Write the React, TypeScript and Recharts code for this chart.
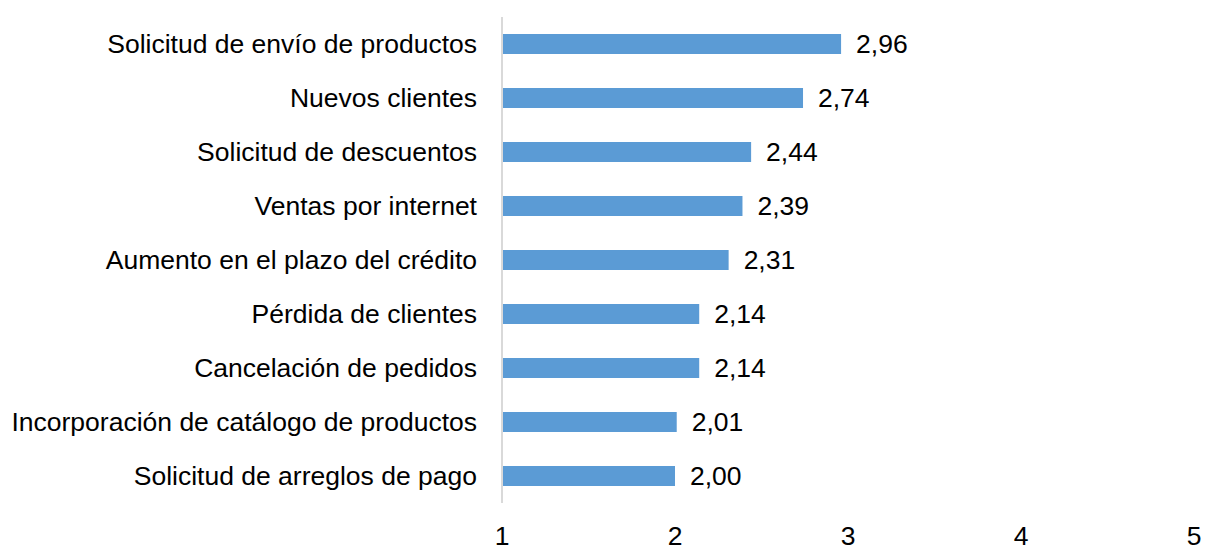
import { BarChart, Bar, XAxis, YAxis, LabelList } from "recharts";

const categories = [
  "Solicitud de envío de productos",
  "Nuevos clientes",
  "Solicitud de descuentos",
  "Ventas por internet",
  "Aumento en el plazo del crédito",
  "Pérdida de clientes",
  "Cancelación de pedidos",
  "Incorporación de catálogo de productos",
  "Solicitud de arreglos de pago",
];

const values = [2.96, 2.74, 2.44, 2.39, 2.31, 2.14, 2.14, 2.01, 2.0];

const xTicks = [1, 2, 3, 4, 5];

const data = categories.map((name, i) => ({ name, value: values[i] }));

const FONT = "'Liberation Sans', Arial, sans-serif";

export default function App() {
  return (
    <div style={{ width: 1207, height: 545, background: "#fff" }}>
      <style>{`body{margin:0}`}</style>
      <BarChart
        width={1207}
        height={545}
        data={data}
        layout="vertical"
        margin={{ top: 17, right: 13, bottom: 0, left: 0 }}
        barCategoryGap={17}
      >
        <XAxis
          type="number"
          domain={[1, 5]}
          ticks={xTicks}
          axisLine={false}
          tickLine={false}
          height={42}
          tickMargin={17}
          tick={{ fill: "#000", fontSize: 26.5, fontFamily: FONT }}
        />
        <YAxis
          type="category"
          dataKey="name"
          width={502}
          axisLine={{ stroke: "#d9d9d9", strokeWidth: 2 }}
          tickLine={false}
          tickMargin={19}
          interval={0}
          tick={{ fill: "#000", fontSize: 26.5, fontFamily: FONT }}
        />
        <Bar dataKey="value" fill="#5b9bd5" barSize={20} isAnimationActive={false}>
          <LabelList
            dataKey="value"
            position="right"
            offset={15}
            formatter={(v: number) => v.toFixed(2).replace(".", ",")}
            style={{ fill: "#000", fontSize: 26.5, fontFamily: FONT }}
          />
        </Bar>
      </BarChart>
    </div>
  );
}
